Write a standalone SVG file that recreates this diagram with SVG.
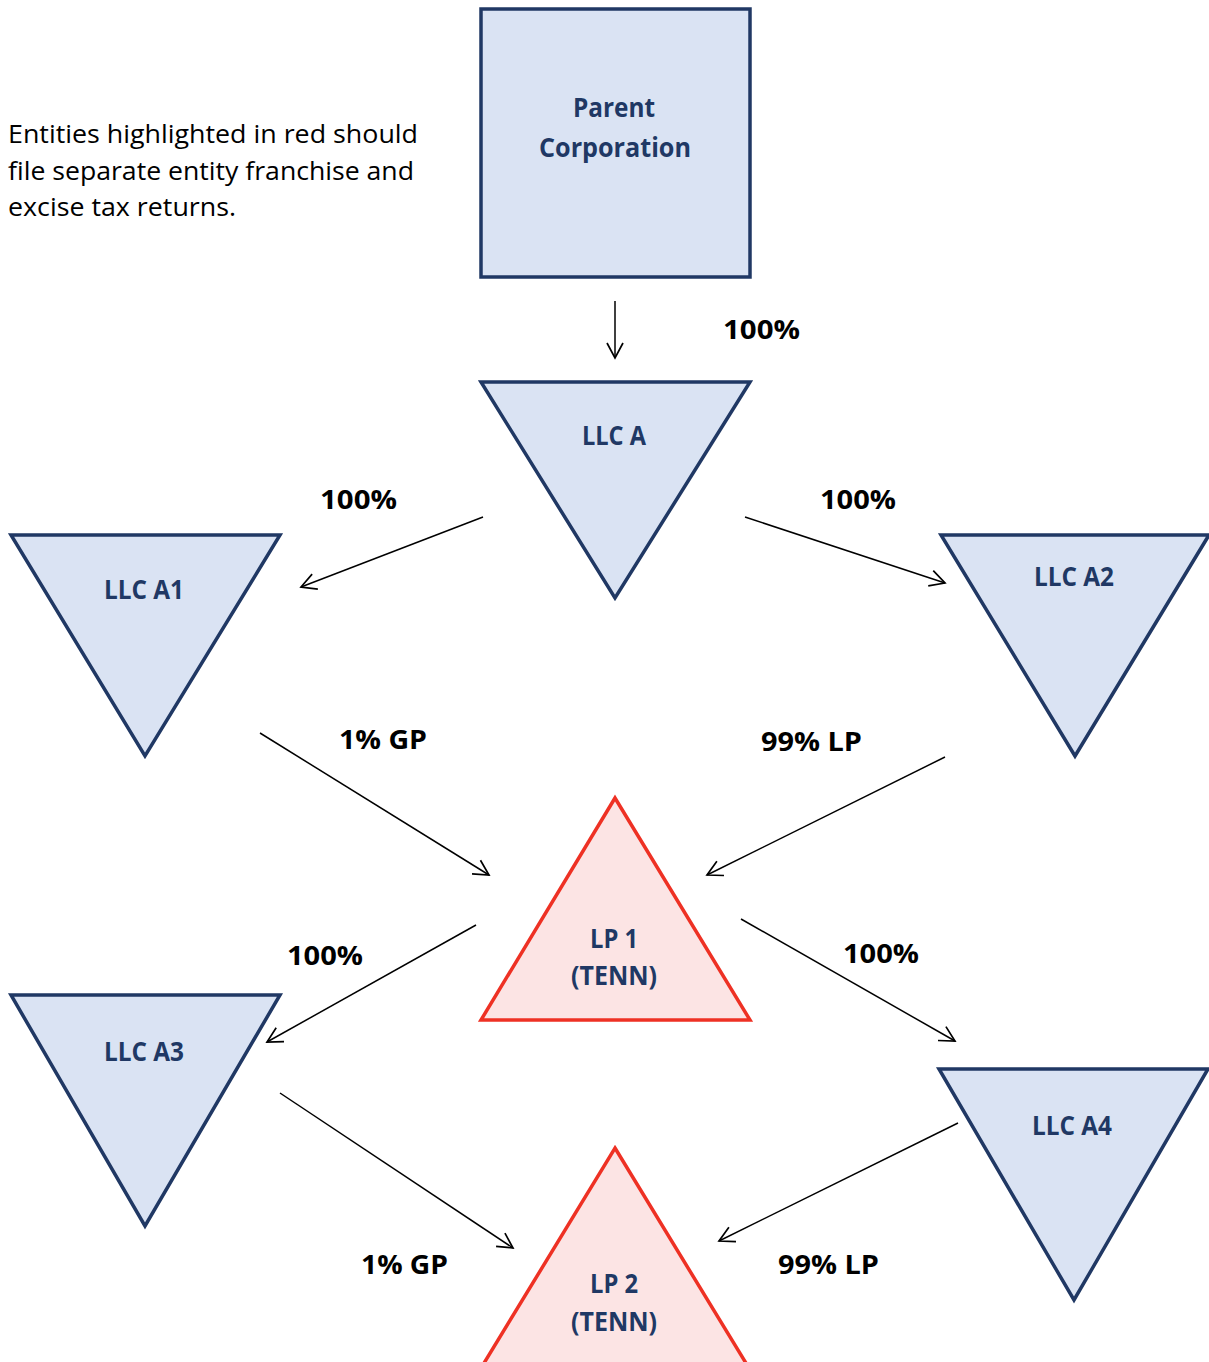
<svg xmlns="http://www.w3.org/2000/svg" width="1209" height="1362" viewBox="0 0 1209 1362">
<style>
.llc{fill:#dae3f3;stroke:#203864;stroke-width:3.5;stroke-linejoin:miter}
.lp{fill:#fce4e4;stroke:#ee3124;stroke-width:3.5}
.nt{font-family:"Open Sans","Liberation Sans",sans-serif;font-weight:bold;font-size:26px;fill:#203864;text-anchor:middle}
.lbl{font-family:"Open Sans","Liberation Sans",sans-serif;font-weight:bold;font-size:27px;fill:#000}
.note{font-family:"Open Sans","Liberation Sans",sans-serif;font-size:26px;fill:#000}
.con{stroke:#000;stroke-width:1.5;fill:none;marker-end:url(#ah)}
</style>
<defs>
<marker id="ah" markerUnits="userSpaceOnUse" markerWidth="20" markerHeight="20" refX="17" refY="10" orient="auto" viewBox="0 0 20 20">
<path d="M2,2 L17,10 L2,18" fill="none" stroke="#000" stroke-width="1.7"/>
</marker>
</defs>
<rect width="1209" height="1362" fill="#fff"/>
<g id="note">
<text class="note" x="8" y="143" textLength="410" lengthAdjust="spacingAndGlyphs">Entities highlighted in red should</text>
<text class="note" x="8" y="180" textLength="406" lengthAdjust="spacingAndGlyphs">file separate entity franchise and</text>
<text class="note" x="8" y="216" textLength="228" lengthAdjust="spacingAndGlyphs">excise tax returns.</text>
</g>
<g id="parent">
<rect x="481" y="9" width="269" height="268" class="llc"/>
<text class="nt" x="614" y="117" textLength="82" lengthAdjust="spacingAndGlyphs">Parent</text>
<text class="nt" x="615" y="157" textLength="152" lengthAdjust="spacingAndGlyphs">Corporation</text>
</g>
<g id="llcA">
<polygon class="llc" points="481,382 750,382 615,598"/>
<text class="nt" x="614" y="445" textLength="64" lengthAdjust="spacingAndGlyphs">LLC A</text>
</g>
<g id="llcA1">
<polygon class="llc" points="11,535 280,535 145,756"/>
<text class="nt" x="144" y="599" textLength="80" lengthAdjust="spacingAndGlyphs">LLC A1</text>
</g>
<g id="llcA2">
<polygon class="llc" points="941,535 1209,535 1075,756"/>
<text class="nt" x="1074" y="586" textLength="80" lengthAdjust="spacingAndGlyphs">LLC A2</text>
</g>
<g id="lp1">
<polygon class="lp" points="615,798 750,1020 481,1020"/>
<text class="nt" x="614" y="948" textLength="48" lengthAdjust="spacingAndGlyphs">LP 1</text>
<text class="nt" x="614" y="985" textLength="86" lengthAdjust="spacingAndGlyphs">(TENN)</text>
</g>
<g id="llcA3">
<polygon class="llc" points="11,995 280,995 145,1226"/>
<text class="nt" x="144" y="1061" textLength="80" lengthAdjust="spacingAndGlyphs">LLC A3</text>
</g>
<g id="llcA4">
<polygon class="llc" points="939,1069 1208,1069 1074,1300"/>
<text class="nt" x="1072" y="1135" textLength="80" lengthAdjust="spacingAndGlyphs">LLC A4</text>
</g>
<g id="lp2">
<polygon class="lp" points="615,1148 752,1373 478,1373"/>
<text class="nt" x="614" y="1293" textLength="48" lengthAdjust="spacingAndGlyphs">LP 2</text>
<text class="nt" x="614" y="1331" textLength="86" lengthAdjust="spacingAndGlyphs">(TENN)</text>
</g>
<g id="connectors">
<line class="con" x1="615" y1="301" x2="615" y2="358"/>
<line class="con" x1="483" y1="517" x2="301" y2="587"/>
<line class="con" x1="745" y1="517" x2="945" y2="583"/>
<line class="con" x1="260" y1="733" x2="489" y2="875"/>
<line class="con" x1="945" y1="757" x2="707" y2="875"/>
<line class="con" x1="476" y1="925" x2="267" y2="1042"/>
<line class="con" x1="741" y1="919" x2="955" y2="1041"/>
<line class="con" x1="280" y1="1093" x2="513" y2="1248"/>
<line class="con" x1="958" y1="1123" x2="719" y2="1241"/>
</g>
<g id="labels">
<text class="lbl" x="723" y="339" textLength="77" lengthAdjust="spacingAndGlyphs">100%</text>
<text class="lbl" x="320" y="509" textLength="77" lengthAdjust="spacingAndGlyphs">100%</text>
<text class="lbl" x="820" y="509" textLength="76" lengthAdjust="spacingAndGlyphs">100%</text>
<text class="lbl" x="339" y="749" textLength="88" lengthAdjust="spacingAndGlyphs">1% GP</text>
<text class="lbl" x="761" y="751" textLength="101" lengthAdjust="spacingAndGlyphs">99% LP</text>
<text class="lbl" x="287" y="965" textLength="76" lengthAdjust="spacingAndGlyphs">100%</text>
<text class="lbl" x="843" y="963" textLength="76" lengthAdjust="spacingAndGlyphs">100%</text>
<text class="lbl" x="361" y="1274" textLength="87" lengthAdjust="spacingAndGlyphs">1% GP</text>
<text class="lbl" x="778" y="1274" textLength="101" lengthAdjust="spacingAndGlyphs">99% LP</text>
</g>
</svg>
